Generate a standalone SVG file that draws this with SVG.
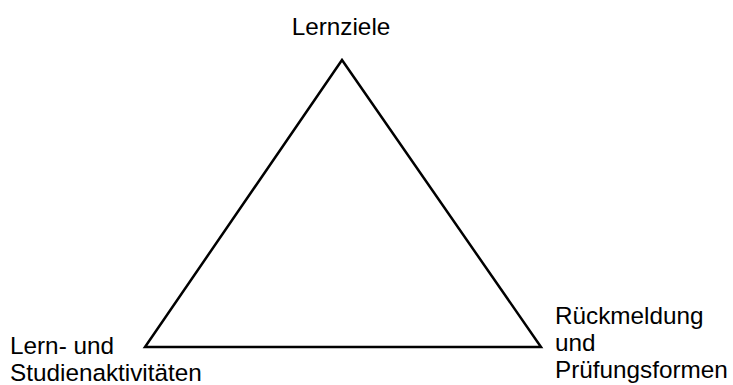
<svg xmlns="http://www.w3.org/2000/svg" width="733" height="385" viewBox="0 0 733 385">
<style>
.t{font-family:"Liberation Sans",Arial,sans-serif;font-size:24.3px;fill:#000}
.e{fill:none;stroke:#000;stroke-width:2.5;stroke-linejoin:miter}
</style>
<rect width="733" height="385" fill="#fff"/>
<g id="connectors">
<polygon class="e" points="342,60 145,347 541,347"/>
</g>
<g id="lernziele"><text class="t" x="341" y="35" text-anchor="middle">Lernziele</text></g>
<g id="aktivitaeten">
<text class="t" x="10" y="354">Lern- und</text>
<text class="t" x="10" y="381">Studienaktivitäten</text>
</g>
<g id="rueckmeldung">
<text class="t" x="555" y="324">Rückmeldung</text>
<text class="t" x="555" y="351">und</text>
<text class="t" x="555" y="378">Prüfungsformen</text>
</g>
</svg>
